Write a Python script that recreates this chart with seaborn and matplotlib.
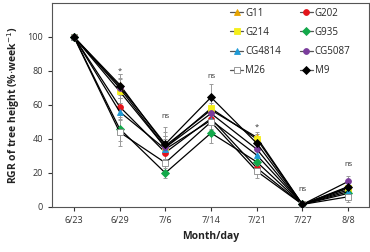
import numpy as np
import pandas as pd
import matplotlib
matplotlib.use('Agg')
import matplotlib.pyplot as plt
import seaborn as sns

# Dates (month/day) and RGR values
dates = ['6/23', '6/29', '7/6', '7/14', '7/21', '7/27', '8/8']

g11 = [100, 72, 36, 57, 41, 1.5, 12]
g202 = [100, 59, 32, 52, 23, 1.5, 10]
g214 = [100, 68, 35, 58, 40, 1.5, 11]
g935 = [100, 46, 20, 43.5, 26.5, 1.5, 8]
cg4814 = [100, 56, 34, 51, 30.5, 1.5, 9]
cg5087 = [100, 70, 35, 55, 34, 1.5, 15]
m26 = [100, 44, 26, 50, 21, 1.5, 6]
m9 = [100, 71, 37, 64.5, 37.5, 1.5, 11.5]

# standard deviations (rough)
g11_sd = [1, 6, 8, 7, 3, 0.5, 3]
g202_sd = [1, 5, 6, 6, 3, 0.5, 3]
g214_sd = [1, 7, 7, 6, 3, 0.5, 3]
g935_sd = [1, 7, 3, 6, 4, 0.5, 3]
cg4814_sd = [1, 5, 6, 6, 4, 0.5, 3]
cg5087_sd = [1, 6, 7, 6, 4, 0.5, 3]
m26_sd = [1, 8, 5, 6, 4, 0.5, 3]
m9_sd = [1, 7, 10, 8, 4, 0.5, 3]

genotypes = ['G11', 'G202', 'G214', 'G935', 'CG4814', 'CG5087', 'M26', 'M9']
values = [g11, g202, g214, g935, cg4814, cg5087, m26, m9]
sds = [g11_sd, g202_sd, g214_sd, g935_sd, cg4814_sd, cg5087_sd, m26_sd, m9_sd]

# significance labels and their heights
sig_labels = ['', '*', 'ns', 'ns', '*', 'ns', 'ns']
sig_y = [None, 80, 53, 77, 47, 10, 25]

styles = {
    'G11': dict(marker='^', color='#e8a400'),
    'G202': dict(marker='o', color='#e3141b'),
    'G214': dict(marker='s', color='#f4ee1a'),
    'G935': dict(marker='D', color='#13a84a'),
    'CG4814': dict(marker='^', color='#1f9ad6'),
    'CG5087': dict(marker='o', color='#7a3c9c'),
    'M26': dict(marker='s', color='white'),
    'M9': dict(marker='D', color='black'),
}

rows = []
for g, v, s in zip(genotypes, values, sds):
    for i, d in enumerate(dates):
        rows.append({'date': d, 'pos': i, 'genotype': g, 'rgr': v[i], 'sd': s[i]})
df = pd.DataFrame(rows)

sns.set_style('ticks')
plt.rcParams['font.family'] = ['Open Sans', 'DejaVu Sans']

fig = plt.figure(figsize=(3.7, 2.52), dpi=100)
ax = fig.add_axes([0.1405, 0.1786, 0.856, 0.81])

for g in genotypes:
    sub = df[df['genotype'] == g]
    ax.errorbar(sub['pos'], sub['rgr'], yerr=sub['sd'], fmt='none',
                ecolor='#9a9a9a', elinewidth=0.7, capsize=1.5, capthick=0.7, zorder=1)

for g in genotypes:
    sub = df[df['genotype'] == g]
    st = styles[g]
    ec = '#888888' if g == 'M26' else st['color']
    sns.lineplot(data=sub, x='pos', y='rgr', ax=ax, color='black', lw=0.9,
                 marker=st['marker'], markersize=4.2, markerfacecolor=st['color'],
                 markeredgecolor=ec, markeredgewidth=0.6, label=g, zorder=3)

for i, (lab, yy) in enumerate(zip(sig_labels, sig_y)):
    if lab:
        ax.text(i, yy, lab, ha='center', va='center', fontsize=5.5, color='#333333')

ax.set_xlim(-0.48, 6.45)
ax.set_ylim(0, 120)
ax.set_yticks([0, 20, 40, 60, 80, 100])
ax.set_xticks(range(len(dates)))
ax.set_xticklabels(dates)
ax.tick_params(labelsize=6.5, length=3, width=0.8, colors='#333333')
ax.set_xlabel('Month/day', fontsize=7.5, fontweight='bold', color='#222222')
ax.set_ylabel('RGR of tree height (%$\\cdot$week$^{-1}$)', fontsize=7.5,
              fontweight='bold', color='#222222')
for sp in ax.spines.values():
    sp.set_linewidth(0.8)
    sp.set_color('#555555')

# legend filled row by row like the original
handles, labels = ax.get_legend_handles_labels()
lookup = dict(zip(labels, handles))
order = ['G11', 'G214', 'CG4814', 'M26', 'G202', 'G935', 'CG5087', 'M9']
leg = ax.legend([lookup[k] for k in order], order, ncol=2, loc='upper right',
                fontsize=7, frameon=False, handlelength=1.3, handletextpad=0.2,
                columnspacing=2.0, labelspacing=0.85, bbox_to_anchor=(0.97, 1.02))
for h in leg.legend_handles:
    h.set_color('#555555')

fig.savefig('out.png', dpi=100)
